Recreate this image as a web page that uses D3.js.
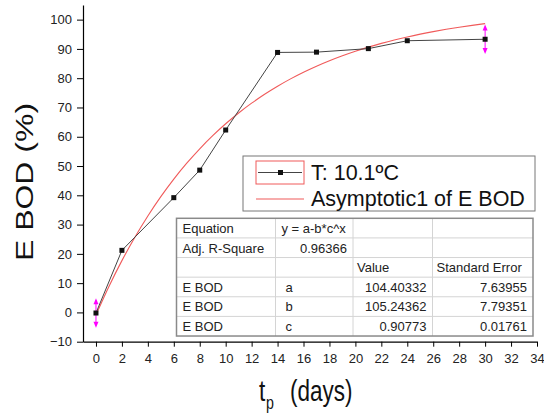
<!DOCTYPE html>
<html>
<head>
<meta charset="utf-8">
<script src="https://cdn.jsdelivr.net/npm/d3@7"></script>
<style>
html,body{margin:0;padding:0;background:#fff;}
svg{display:block;font-family:"Liberation Sans",Arial,sans-serif;}
</style>
</head>
<body>
<svg id="chart" width="544" height="419"></svg>
<script>
// ---- data ----
const days = [0, 2, 6, 8, 10, 14, 17, 21, 24, 30];
const ebod = [-0.2, 21.2, 39.2, 48.6, 62.3, 88.8, 88.9, 90.1, 92.8, 93.3];
const errDays = [0, 30];
const errVal = [-0.2, 93.3];
const errSize = [5, 5];
const fitDays = [0,1,2,3,4,5,6,7,8,9,10,11,12,13,14,15,16,17,18,19,20,21,22,23,24,25,26,27,28,29,30];
const fitVals = [-0.84, 8.87, 17.69, 25.69, 32.95, 39.54, 45.53, 50.96, 55.89, 60.37, 64.43, 68.12, 71.47, 74.51, 77.26, 79.77, 82.04, 84.11, 85.98, 87.68, 89.22, 90.62, 91.89, 93.05, 94.10, 95.05, 95.91, 96.69, 97.41, 98.05, 98.64];
const xTicks = [0,2,4,6,8,10,12,14,16,18,20,22,24,26,28,30,32,34];
const yTicks = [-10,0,10,20,30,40,50,60,70,80,90,100];
const legendLabels = ["T: 10.1ºC", "Asymptotic1 of E BOD"];
const tableRows = [
  ["Equation", "y = a-b*c^x", "", ""],
  ["Adj. R-Square", "0.96366", "", ""],
  ["", "", "Value", "Standard Error"],
  ["E BOD", "a", "104.40332", "7.63955"],
  ["E BOD", "b", "105.24362", "7.79351"],
  ["E BOD", "c", "0.90773", "0.01761"]
];

// ---- scales ----
const svg = d3.select("#chart");
const x = d3.scaleLinear().domain([-1, 34]).range([83, 537]);
const y = d3.scaleLinear().domain([-10, 105]).range([341.7, 5]);

// ---- axes ----
const ax = svg.append("g").attr("transform", "translate(0,341.7)");
ax.call(d3.axisBottom(x).tickValues(d3.range(1, 34, 2)).tickSize(3).tickSizeOuter(0).tickFormat(""));
ax.call(d3.axisBottom(x).tickValues(xTicks).tickSize(5).tickPadding(7).tickSizeOuter(0));
const ay = svg.append("g").attr("transform", "translate(83,0)");
ay.call(d3.axisLeft(y).tickValues(d3.range(-5, 101, 10)).tickSize(3).tickSizeOuter(0).tickFormat(""));
ay.call(d3.axisLeft(y).tickValues(yTicks).tickSize(6).tickPadding(5).tickSizeOuter(0));
svg.selectAll(".domain").attr("stroke", "#000").attr("stroke-width", 1.2);
svg.selectAll(".tick line").attr("stroke", "#000");
svg.selectAll(".tick text").attr("font-size", 13).attr("fill", "#222")
  .attr("font-family", "'Liberation Sans', Arial, sans-serif");

// ---- axis titles ----
function stext(g, px, py, str, size, sx, anchor) {
  return g.append("text")
    .attr("transform", `translate(${px},${py}) scale(${sx},1)`)
    .attr("font-size", size).attr("text-anchor", anchor || "start")
    .attr("fill", "#111").text(str);
}
stext(svg, 259, 401, "t", 30, 0.75);
stext(svg, 266, 409, "p", 19, 0.75);
stext(svg, 290, 401, "(days)", 30, 0.75);
svg.append("text")
  .attr("transform", "translate(33,182) scale(0.72,1) rotate(-90)")
  .attr("font-size", 32).attr("text-anchor", "middle").attr("fill", "#111")
  .text("E BOD (%)");

// ---- fit curve ----
const fitLine = d3.line().x((d, i) => x(fitDays[i])).y(d => y(d)).curve(d3.curveMonotoneX);
svg.append("path").datum(fitVals).attr("d", fitLine)
  .attr("fill", "none").attr("stroke", "#f05a5a").attr("stroke-width", 1.1);

// ---- data line ----
const dataLine = d3.line().x((d, i) => x(days[i])).y(d => y(d));
svg.append("path").datum(ebod).attr("d", dataLine)
  .attr("fill", "none").attr("stroke", "#444").attr("stroke-width", 1);

// ---- error bars ----
const eb = svg.append("g").attr("fill", "#ff00ff").attr("stroke", "#ff00ff");
errDays.forEach((d, i) => {
  const cx = x(d), top = y(errVal[i] + errSize[i]), bot = y(errVal[i] - errSize[i]);
  eb.append("line").attr("x1", cx).attr("x2", cx).attr("y1", top + 2).attr("y2", bot - 2).attr("stroke-width", 1);
  eb.append("path").attr("stroke", "none")
    .attr("d", `M${cx},${top} L${cx - 2.5},${top + 6} L${cx + 2.5},${top + 6} Z`);
  eb.append("path").attr("stroke", "none")
    .attr("d", `M${cx},${bot} L${cx - 2.5},${bot - 6} L${cx + 2.5},${bot - 6} Z`);
});

// ---- markers ----
svg.append("g").selectAll("rect").data(ebod).join("rect")
  .attr("x", (d, i) => x(days[i]) - 2.5).attr("y", d => y(d) - 2.5)
  .attr("width", 5).attr("height", 5).attr("fill", "#111");

// ---- legend ----
const lg = svg.append("g");
lg.append("rect").attr("x", 243).attr("y", 156).attr("width", 292).attr("height", 55)
  .attr("fill", "#fff").attr("stroke", "#777").attr("stroke-width", 1);
lg.append("rect").attr("x", 256).attr("y", 161).attr("width", 48).attr("height", 23)
  .attr("fill", "none").attr("stroke", "#f05a5a").attr("stroke-width", 1);
lg.append("line").attr("x1", 258).attr("x2", 302).attr("y1", 172.5).attr("y2", 172.5)
  .attr("stroke", "#444").attr("stroke-width", 1);
lg.append("rect").attr("x", 278).attr("y", 170).attr("width", 5).attr("height", 5).attr("fill", "#111");
lg.append("line").attr("x1", 256).attr("x2", 304).attr("y1", 199).attr("y2", 199)
  .attr("stroke", "#f05a5a").attr("stroke-width", 1.1);
lg.append("text").attr("x", 311).attr("y", 180).attr("font-size", 21.5).attr("fill", "#111").text(legendLabels[0]);
lg.append("text").attr("x", 311).attr("y", 206).attr("font-size", 21.5).attr("fill", "#111").text(legendLabels[1]);

// ---- table ----
const colX = [176.5, 275.5, 353, 432.5, 533];
const rowTop = 218.3, rowH = 19.62;
const tb = svg.append("g");
tb.append("rect").attr("x", colX[0]).attr("y", rowTop).attr("width", colX[4] - colX[0])
  .attr("height", rowH * tableRows.length).attr("fill", "#fff");
for (let r = 1; r < tableRows.length; r++) {
  tb.append("line").attr("x1", colX[0]).attr("x2", colX[4])
    .attr("y1", rowTop + r * rowH).attr("y2", rowTop + r * rowH)
    .attr("stroke", "#d4d4d4").attr("stroke-width", 1);
}
for (let c = 1; c < 4; c++) {
  tb.append("line").attr("x1", colX[c]).attr("x2", colX[c])
    .attr("y1", rowTop).attr("y2", rowTop + rowH * tableRows.length)
    .attr("stroke", "#d4d4d4").attr("stroke-width", 1);
}
tb.append("rect").attr("x", colX[0]).attr("y", rowTop).attr("width", colX[4] - colX[0])
  .attr("height", rowH * tableRows.length).attr("fill", "none")
  .attr("stroke", "#8a8a8a").attr("stroke-width", 1.5);
tableRows.forEach((row, r) => {
  row.forEach((cell, c) => {
    if (!cell) return;
    const numeric = /^[0-9.]+$/.test(cell);
    let tx, anchor;
    if (numeric) { tx = colX[c + 1] - 6; anchor = "end"; }
    else if (c === 1 && r >= 3) { tx = colX[c] + 10; anchor = "start"; }
    else { tx = colX[c] + (c >= 2 ? 4 : 6); anchor = "start"; }
    tb.append("text").attr("x", tx).attr("y", rowTop + r * rowH + rowH / 2 + 4.8)
      .attr("text-anchor", anchor).attr("font-size", 13).attr("fill", "#222").text(cell);
  });
});
</script>
</body>
</html>
